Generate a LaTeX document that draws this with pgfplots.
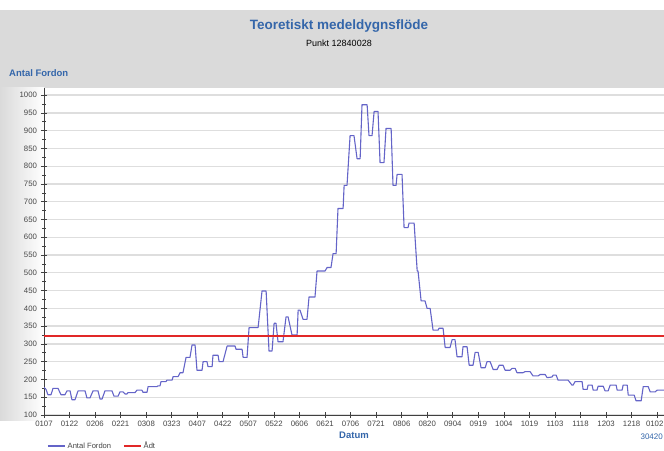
\documentclass[border=0pt]{standalone}
\usepackage{pgfplots}
\pgfplotsset{compat=1.18}
\usepackage{fontspec}
\setmainfont{Liberation Sans}
\definecolor{titleblue}{RGB}{52,102,170}
\definecolor{lineblue}{RGB}{100,100,200}
\definecolor{adtred}{RGB}{225,40,40}
\definecolor{bandgray}{RGB}{218,218,218}
\definecolor{ticktext}{RGB}{70,70,70}
\begin{document}
\begin{tikzpicture}
\useasboundingbox (0,0) rectangle (664bp,451bp);
\fill[white] (0,0) rectangle (664bp,451bp);
\fill[bandgray] (0,363bp) rectangle (664bp,441bp);
\shade[left color=bandgray, right color=white] (0,30bp) rectangle (44bp,363bp);
\node[font=\fontsize{13.5bp}{15bp}\selectfont\bfseries, text=titleblue] at (339bp,425bp) {Teoretiskt medeldygnsflöde};
\node[font=\fontsize{9bp}{10bp}\selectfont] at (339bp,408bp) {Punkt 12840028};
\node[font=\fontsize{9.5bp}{10bp}\selectfont\bfseries, text=titleblue, anchor=west, inner sep=0pt] at (9bp,378bp) {Antal Fordon};
\node[font=\fontsize{8bp}{9bp}\selectfont, text=titleblue, anchor=east, inner sep=0pt] at (663bp,14bp) {30420};
\begin{axis}[
  at={(44bp,36bp)}, anchor=south west,
  scale only axis, width=620bp, height=327bp,
  xmin=0, xmax=364, ymin=100, ymax=1020,
  axis x line=bottom, axis y line=left,
  axis line style={-, draw=black!75, line width=0.8bp},
  ytick={100,150,...,1000},
  minor y tick num=1,
  xtick={0,15,...,360},
  xticklabels={0107,0122,0206,0221,0308,0323,0407,0422,0507,0522,0606,0621,0706,0721,0806,0820,0904,0919,1004,1019,1103,1118,1203,1218,{0102\kern5bp}},
  tick align=center,
  major tick length=6bp, minor tick length=3bp,
  tick style={draw=black!75, line width=0.7bp},
  ymajorgrids, grid style={draw=black!13, line width=1.3bp},
  /pgf/number format/assume math mode=true,
  /pgf/number format/1000 sep={},
  ticklabel style={font=\fontsize{7.8bp}{8.5bp}\selectfont, text=ticktext},
  yticklabel style={xshift=-0.5bp},
  xticklabel style={yshift=0.5bp},
  xlabel={Datum},
  xlabel style={font=\fontsize{9.5bp}{10bp}\selectfont\bfseries, text=titleblue, yshift=1bp},
  legend columns=2,
  legend style={draw=none, fill=none, at={(axis description cs:0,-0.095)}, anchor=west,
    font=\fontsize{7.6bp}{8.5bp}\selectfont, text=ticktext,
    /tikz/every even column/.append style={column sep=10bp}},
  legend image post style={line width=1.5bp},
]
\addplot[lineblue, line width=1.1bp, line join=round] coordinates {
(0,178) (1.2,172) (2.3,157) (4.1,157) (5.3,175) (8.2,175) (10.0,157) (12.3,157)
(13.5,168) (15.3,168) (16.4,143) (18.2,143) (20.0,168) (24.1,168) (25.2,148) (27.0,148)
(28.8,168) (31.7,168) (32.9,145) (34.1,145) (35.8,168) (39.9,168) (41.1,153) (43.5,153)
(44.6,165) (46.4,165) (47.6,159) (48.7,159) (49.3,163) (53.4,163) (54.6,170) (57.5,170)
(58.1,164) (60.5,164) (61.1,180) (66.4,180) (66.9,182) (68.1,182) (68.7,194) (71.6,194)
(72.2,198) (75.2,198) (75.8,208) (78.7,208) (79.9,219) (81.6,219) (83.4,262) (85.7,262)
(86.9,297) (88.7,297) (89.8,226) (92.8,226) (93.4,250) (95.7,250) (96.3,236) (98.7,236)
(99.2,268) (102.2,268) (102.8,250) (105.1,250) (107.5,294) (112.2,294) (112.7,285) (116.3,285)
(116.9,262) (119.2,262) (120.4,346) (125.7,346) (128.0,449) (130.4,449) (132.1,280) (133.9,280)
(135.1,358) (136.2,358) (137.4,306) (140.3,306) (142.1,376) (143.3,376) (145.6,325) (148.6,325)
(149.2,395) (150.3,395) (152.1,369) (154.4,369) (155.6,432) (159.1,432) (160.3,505) (165.0,505)
(166.2,515) (168.5,515) (169.7,554) (171.5,554) (172.6,681) (175.6,681) (176.2,746) (177.9,746)
(179.7,886) (182.0,886) (183.8,821) (185.6,821) (186.7,973) (189.7,973) (190.8,886) (192.6,886)
(193.8,954) (196.1,954) (197.3,810) (199.6,810) (200.8,906) (203.8,906) (204.9,746) (206.7,746)
(207.3,777) (210.2,777) (211.4,627) (213.7,627) (214.3,640) (217.3,640) (219.1,505) (219.6,505)
(221.4,421) (223.7,421) (224.9,400) (226.7,400) (228.4,339) (231.4,339) (231.9,344) (234.3,344)
(235.5,290) (238.4,290) (239.6,312) (241.3,312) (242.5,264) (245.4,264) (246.0,292) (248.4,292)
(249.6,240) (251.9,240) (253.1,276) (254.9,276) (256.6,233) (259.0,233) (260.1,250) (261.9,250)
(263.7,228) (266.0,228) (267.2,240) (269.5,240) (270.7,226) (273.6,226) (274.8,231) (276.6,231)
(277.7,219) (281.3,219) (282.4,222) (285.4,222) (287.1,210) (290.1,210) (291.3,214) (294.2,214)
(295.4,205) (298.3,207) (298.9,212) (300.7,212) (301.8,198) (307.7,198) (310.0,184) (310.6,184)
(311.8,194) (315.9,194) (316.5,172) (318.9,172) (319.4,184) (321.8,184) (322.4,170) (324.7,170)
(325.3,181) (328.3,181) (329.4,168) (331.2,168) (332.4,184) (335.9,184) (336.5,170) (339.4,170)
(340.0,184) (342.4,184) (343.0,156) (346.5,156) (347.6,140) (350.6,140) (351.8,180) (354.7,180)
(355.9,165) (358.8,165) (360.0,170) (364.0,170)
};
\addlegendentry{Antal Fordon}
\addplot[adtred, line width=1.8bp] coordinates {(0,323) (364,323)};
\addlegendentry{Ådt}
\end{axis}
\end{tikzpicture}
\end{document}
